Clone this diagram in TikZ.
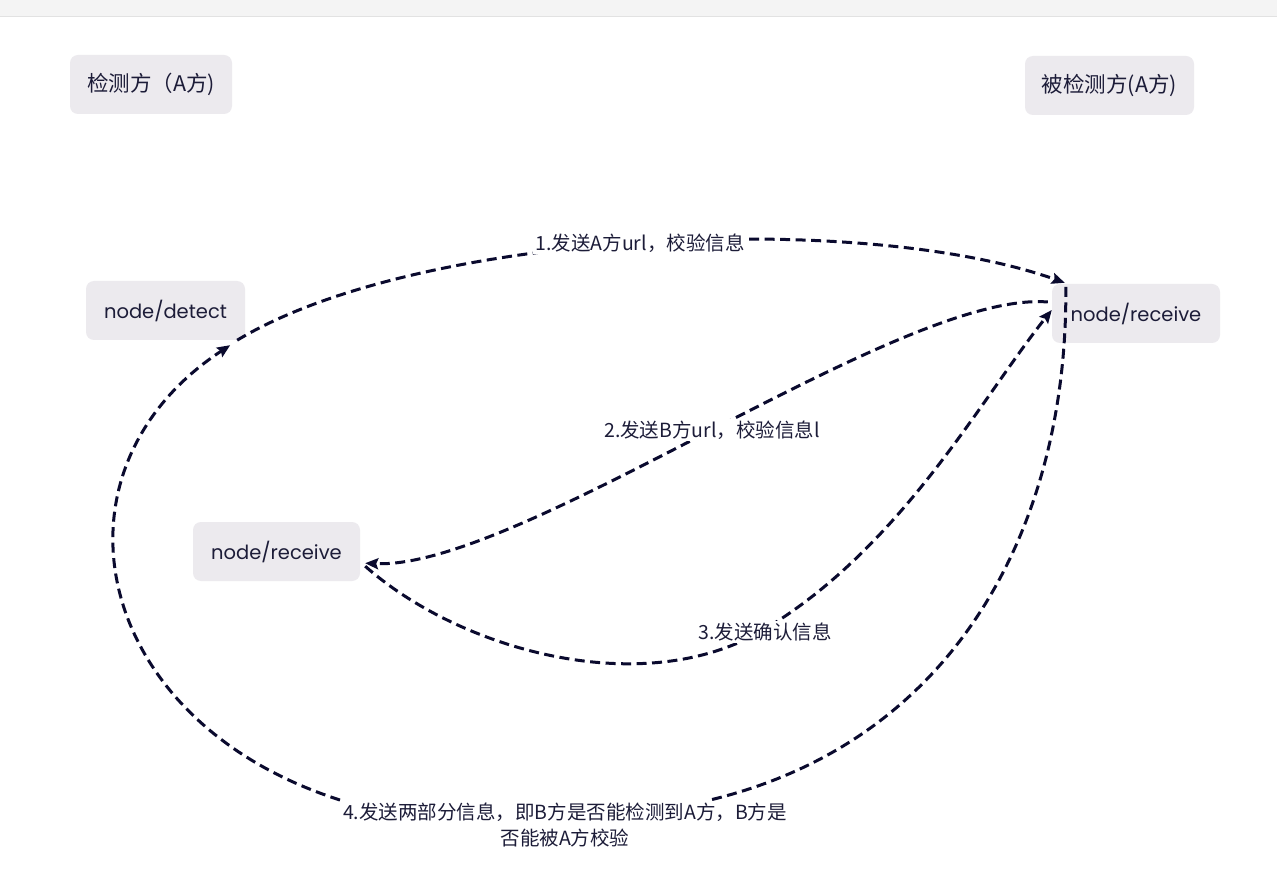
\documentclass[tikz,border=0pt]{standalone}
\usepackage{fontspec}
\setmainfont{Noto Sans CJK SC}
\newfontfamily\popp{Poppins}
\usetikzlibrary{arrows.meta}
\definecolor{boxfill}{RGB}{236,234,238}
\definecolor{txt}{RGB}{28,28,56}
\definecolor{edge}{RGB}{10,10,46}
\definecolor{barfill}{RGB}{244,244,244}
\definecolor{barline}{RGB}{226,226,226}
\tikzset{
  box/.style={rounded corners=8pt, fill=boxfill, text=txt, inner sep=0pt},
  cjkbox/.style={box, font=\fontsize{21.5}{24}\selectfont},
  enbox/.style={box, font=\popp\fontsize{19.5}{23}\selectfont},
  lab/.style={fill=white, text=txt, inner sep=2pt, font=\fontsize{19.5}{26}\selectfont},
  conn/.style={draw=edge, line width=3pt, dash pattern=on 10pt off 5.5pt, -{Stealth[length=13pt,width=11pt,inset=2pt]}},
  connplain/.style={draw=edge, line width=3pt, dash pattern=on 10pt off 5.5pt}
}
\begin{document}
\begin{tikzpicture}[x=1pt,y=-1pt]
\useasboundingbox (0,0) rectangle (1277,890);
\fill[white] (0,0) rectangle (1277,890);
\fill[barfill] (0,0) rectangle (1277,16);
\draw[barline, line width=1pt] (0,16.5) -- (1277,16.5);

% boxes
\node[cjkbox, minimum width=162pt, minimum height=59pt] (ta) at (151,84.5) {检测方（A方)};
\node[cjkbox, minimum width=169pt, minimum height=59pt] (tb) at (1109.5,85.5) {被检测方(A方)};
\node[enbox, minimum width=159pt, minimum height=59pt] (det) at (165.5,310.5) {node/detect};
\node[enbox, minimum width=168pt, minimum height=59pt] (rr) at (1136,313.5) {node/receive};
\node[enbox, minimum width=167pt, minimum height=59pt] (rl) at (276.5,551.5) {node/receive};

% connector end points (yshift positive = up on the page)
\coordinate (e1s) at ([xshift=-8pt,yshift=0pt]det.south east);
\coordinate (e1e) at ([xshift=13pt,yshift=1pt]rr.north west);
\coordinate (e2s) at ([xshift=-4pt,yshift=11.5pt]rr.west);
\coordinate (e2e) at ([xshift=5pt,yshift=18pt]rl.south east);
\coordinate (e3s) at ([xshift=5pt,yshift=15pt]rl.south east);
\coordinate (e3e) at ([xshift=0pt,yshift=3.5pt]rr.west);
\coordinate (e4s) at ([xshift=14pt,yshift=-3pt]rr.north west);
\coordinate (e4e) at ([xshift=-15pt,yshift=-5pt]det.south east);

% edges
\draw[conn] (e1s) .. controls (420,230) and (860,210) .. (e1e);
\draw[conn] (e2s) .. controls (900,290) and (520,570) .. (e2e);
\draw[conn] (e3s) .. controls (460,650) and (640,700) .. (760,632) .. controls (900,550) and (980,400) .. (e3e);
\coordinate (e4a) at (710,800);
\coordinate (e4b) at (340,800);
\draw[connplain] (e4s) .. controls (1068,520) and (960,740) .. (e4a);
\draw[conn] (e4b) .. controls (90,720) and (40,470) .. (e4e);

% labels
\node[lab] (l1) at (640,243) {1.发送A方url，校验信息};
\node[lab] (l2) at (712,430) {2.发送B方url，校验信息l};
\node[lab] (l3) at (765,632) {3.发送确认信息};
\node[lab, align=center, inner sep=0pt] (l4) at (565,825) {4.发送两部分信息，即B方是否能检测到A方，B方是\\否能被A方校验};
\end{tikzpicture}
\end{document}
